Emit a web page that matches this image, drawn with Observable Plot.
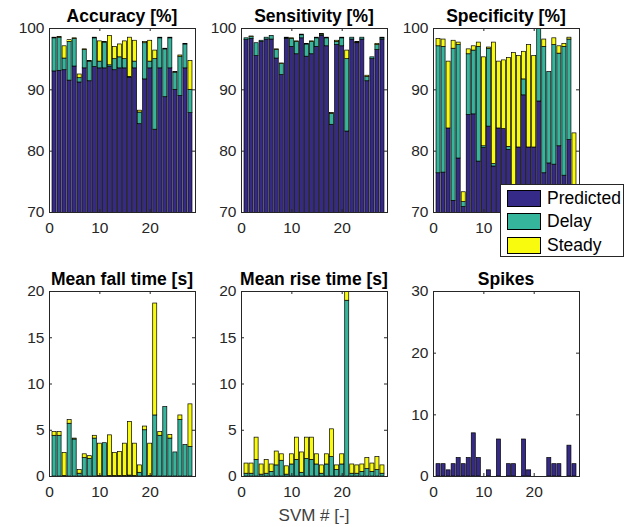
<!DOCTYPE html>
<html><head><meta charset="utf-8">
<script src="https://cdn.jsdelivr.net/npm/d3@7"></script>
<script src="https://cdn.jsdelivr.net/npm/@observablehq/plot@0.6"></script>
<style>
body{margin:0;background:#fff;}
#root{position:relative;width:644px;height:527px;font-family:"Liberation Sans",Arial,sans-serif;overflow:hidden;}
.panel{position:absolute;}
.title{position:absolute;font-weight:bold;font-size:17.5px;color:#000;text-align:center;white-space:nowrap;}
.legend{position:absolute;background:#fff;border:1px solid #262626;box-sizing:border-box;}
.legend .row{position:absolute;left:6px;height:18px;display:flex;align-items:center;}
.legend .sw{width:34px;height:17px;border:1px solid #000;box-sizing:border-box;margin-right:6px;}
.legend .lb{font-size:17.5px;color:#000;}
.xlabel{position:absolute;font-size:17px;color:#404040;}
</style></head><body><div id="root"></div>
<script>
const svm = d3.range(1, 29);
const seriesNames = ["Predicted", "Delay", "Steady"];
const seriesColors = ["#352a87", "#35b59c", "#f9fb0e"];
const titles = ["Accuracy [%]", "Sensitivity [%]", "Specificity [%]", "Mean fall time [s]", "Mean rise time [s]", "Spikes"];
const xTicks = [0, 10, 20];
const pctTicks = [70, 80, 90, 100];
const timeTicks = [0, 5, 10, 15, 20];
const spikeTicks = [0, 10, 20, 30];

// Accuracy [%] segments
const accPredicted = [93.0,93.1,93.2,91.5,93.8,91.2,93.5,91.4,93.7,93.5,93.5,93.7,93.2,93.5,93.5,92.0,93.5,84.4,91.7,93.5,83.5,93.5,88.8,93.5,90.0,89.0,93.5,86.2];
const accDelay     = [5.4,5.4,1.9,6.3,4.5,0.7,3.0,3.2,4.7,1.1,4.2,0.3,1.8,1.8,1.5,0.1,1.1,1.9,5.9,1.1,11.5,4.9,7.8,4.9,2.8,6.4,3.9,3.8];
const accSteady    = [0.1,0.1,2.0,0.3,0.1,0.6,0.1,0.1,0.1,3.3,0.1,4.8,2.0,2.1,2.9,6.4,3.4,0.3,0.2,3.4,1.4,0.1,0.1,0.1,0.1,0.2,0.1,4.7];

// Sensitivity [%] segments
const senPredicted = [98.1,98.3,95.5,97.8,98.2,98.2,95.1,92.4,98.3,97.0,95.8,98.4,95.4,95.8,97.0,98.8,97.1,84.3,97.3,97.1,83.2,98.2,97.6,98.2,91.4,95.0,96.5,98.2];
const senDelay     = [0.3,0.3,2.1,0.2,0.3,0.6,1.4,1.8,0.1,1.3,2.0,0.5,2.0,2.0,1.4,0.2,1.3,1.8,0.5,1.3,11.8,0.3,0.1,0.3,0.7,0.3,0.8,0.2];
const senSteady    = [0.0,0.1,0.0,0.0,0.0,0.0,0.1,0.1,0.1,0.1,0.1,0.1,0.1,0.1,0.1,0.1,0.1,0.1,0.2,0.1,1.4,0.0,0.1,0.0,0.2,0.0,0.2,0.1];

// Specificity [%] segments
const spePredicted = [76.4,76.5,83.7,71.9,78.8,70.9,85.9,86.0,78.3,80.5,84.0,77.5,83.7,83.6,80.2,71.0,80.6,89.1,80.6,80.6,88.1,76.4,78.0,77.8,80.8,76.0,81.8,70.5];
const speDelay     = [20.7,20.5,0.0,24.8,18.5,0.8,9.9,10.4,18.7,0.3,12.7,0.4,0.0,0.0,0.5,0.0,0.0,2.6,0.0,0.0,11.9,20.6,14.9,19.5,15.1,21.0,16.4,0.0];
const speSteady    = [1.2,1.2,10.9,1.3,0.4,1.6,0.8,0.7,0.7,14.5,0.2,19.8,10.9,11.2,14.5,25.0,14.9,4.5,16.7,14.9,0.0,1.2,0.0,1.1,1.2,0.5,0.3,12.4];

// Mean fall time [s] segments
const fallPredicted = new Array(28).fill(0);
const fallDelay  = [4.4,4.4,0.05,5.7,4.0,0.3,2.0,1.9,4.1,0.05,3.6,0.05,0.05,0.05,0.05,0.1,0.05,0.4,5.0,0.05,6.6,4.4,7.5,4.1,2.6,6.1,3.4,3.2];
const fallSteady = [0.4,0.4,2.5,0.4,0.1,0.4,0.4,0.3,0.3,3.5,0.0,4.4,2.5,2.6,3.5,5.8,3.5,0.8,0.4,3.5,12.1,0.4,0.0,0.4,0.0,0.5,0.0,4.6];

// Mean rise time [s] segments
const risePredicted = new Array(28).fill(0);
const riseDelay  = [0.3,0.3,1.8,0.2,0.3,0.5,1.2,1.7,0.2,1.3,1.8,0.4,1.9,1.8,1.3,0.3,1.3,2.1,0.7,1.3,19.0,0.3,0.3,0.5,0.8,0.5,0.7,0.3];
const riseSteady = [1.1,1.1,2.4,1.1,1.5,0.8,1.5,0.7,0.9,1.1,2.4,2.2,2.3,2.4,1.1,0.9,1.1,3.0,0.5,1.1,1.5,1.0,0.9,0.8,1.2,0.9,1.4,0.9];

// Spikes
const spikesPredicted = [2,2,1,2,3,2,3,7,3,0,1,0,6,0,2,2,0,6,1,0,0,0,3,2,2,0,5,2];

function stackRows(arrays) {
  const rows = [];
  svm.forEach((s, i) => {
    let base = 0;
    arrays.forEach((vals, k) => {
      if (!vals) return;
      const v = vals[i];
      rows.push({svm: s, series: seriesNames[k], y1: base, y2: base + v});
      base += v;
    });
  });
  return rows;
}

const panels = [
  {arrays: [accPredicted, accDelay, accSteady], yDomain: [70, 100], yTicks: pctTicks},
  {arrays: [senPredicted, senDelay, senSteady], yDomain: [70, 100], yTicks: pctTicks},
  {arrays: [spePredicted, speDelay, speSteady], yDomain: [70, 100], yTicks: pctTicks},
  {arrays: [fallPredicted, fallDelay, fallSteady], yDomain: [0, 20], yTicks: timeTicks},
  {arrays: [risePredicted, riseDelay, riseSteady], yDomain: [0, 20], yTicks: timeTicks},
  {arrays: [spikesPredicted], yDomain: [0, 30], yTicks: spikeTicks}
];

const colLeft = [49, 241, 433];
const rowTop = [28, 291];
const rowH = [184, 185];
const FW = 146;
const ML = 45, MR = 8, MT = 6, MB = 32;
const axisColor = "#262626";
const root = document.getElementById("root");

panels.forEach((p, idx) => {
  const c = idx % 3, r = Math.floor(idx / 3);
  const fh = rowH[r];
  const rows = stackRows(p.arrays);
  const tl = 3;
  const chart = Plot.plot({
    width: ML + FW + MR,
    height: MT + fh + MB,
    marginLeft: ML, marginRight: MR, marginTop: MT, marginBottom: MB,
    style: {fontFamily: "Liberation Sans, Arial, sans-serif", fontSize: "15.5px", color: axisColor, background: "transparent", overflow: "visible"},
    x: {domain: [0, 29]},
    y: {domain: p.yDomain},
    color: {domain: seriesNames, range: seriesColors},
    marks: [
      Plot.rectY(rows, {x1: d => d.svm - 0.4, x2: d => d.svm + 0.4, y1: "y1", y2: "y2", fill: "series", stroke: "#000", strokeWidth: 0.7, clip: true}),
      Plot.frame({stroke: axisColor, strokeWidth: 1}),
      Plot.tickX(xTicks, {x: d => d, insetTop: fh - tl, stroke: axisColor}),
      Plot.tickX(xTicks, {x: d => d, insetBottom: fh - tl, stroke: axisColor}),
      Plot.tickY(p.yTicks, {y: d => d, insetRight: FW - tl, stroke: axisColor}),
      Plot.tickY(p.yTicks, {y: d => d, insetLeft: FW - tl, stroke: axisColor}),
      Plot.axisX(xTicks, {tickSize: 0, tickPadding: 9, fill: axisColor, fontSize: 15.5}),
      Plot.axisY(p.yTicks, {tickSize: 0, tickPadding: 5, fill: axisColor, fontSize: 15.5})
    ]
  });
  chart.classList.add("panel");
  chart.style.left = (colLeft[c] - ML) + "px";
  chart.style.top = (rowTop[r] - MT) + "px";
  root.appendChild(chart);

  const t = document.createElement("div");
  t.className = "title";
  t.textContent = titles[idx];
  t.style.left = (colLeft[c] - 30) + "px";
  t.style.width = (FW + 60) + "px";
  t.style.top = (rowTop[r] - 22) + "px";
  root.appendChild(t);
});

// legend
const lg = document.createElement("div");
lg.className = "legend";
lg.style.left = "500px"; lg.style.top = "184px"; lg.style.width = "124px"; lg.style.height = "73px";
seriesNames.forEach((n, i) => {
  const row = document.createElement("div");
  row.className = "row";
  row.style.top = (4 + i * 23.5) + "px";
  const sw = document.createElement("div");
  sw.className = "sw"; sw.style.background = seriesColors[i];
  const lb = document.createElement("span");
  lb.className = "lb"; lb.textContent = n;
  row.appendChild(sw); row.appendChild(lb);
  lg.appendChild(row);
});
root.appendChild(lg);

const xl = document.createElement("div");
xl.className = "xlabel";
xl.textContent = "SVM # [-]";
xl.style.left = "0px"; xl.style.width = (2 * (colLeft[1] + FW / 2)) + "px";
xl.style.textAlign = "center";
xl.style.top = "506px";
root.appendChild(xl);
</script>
</body></html>
